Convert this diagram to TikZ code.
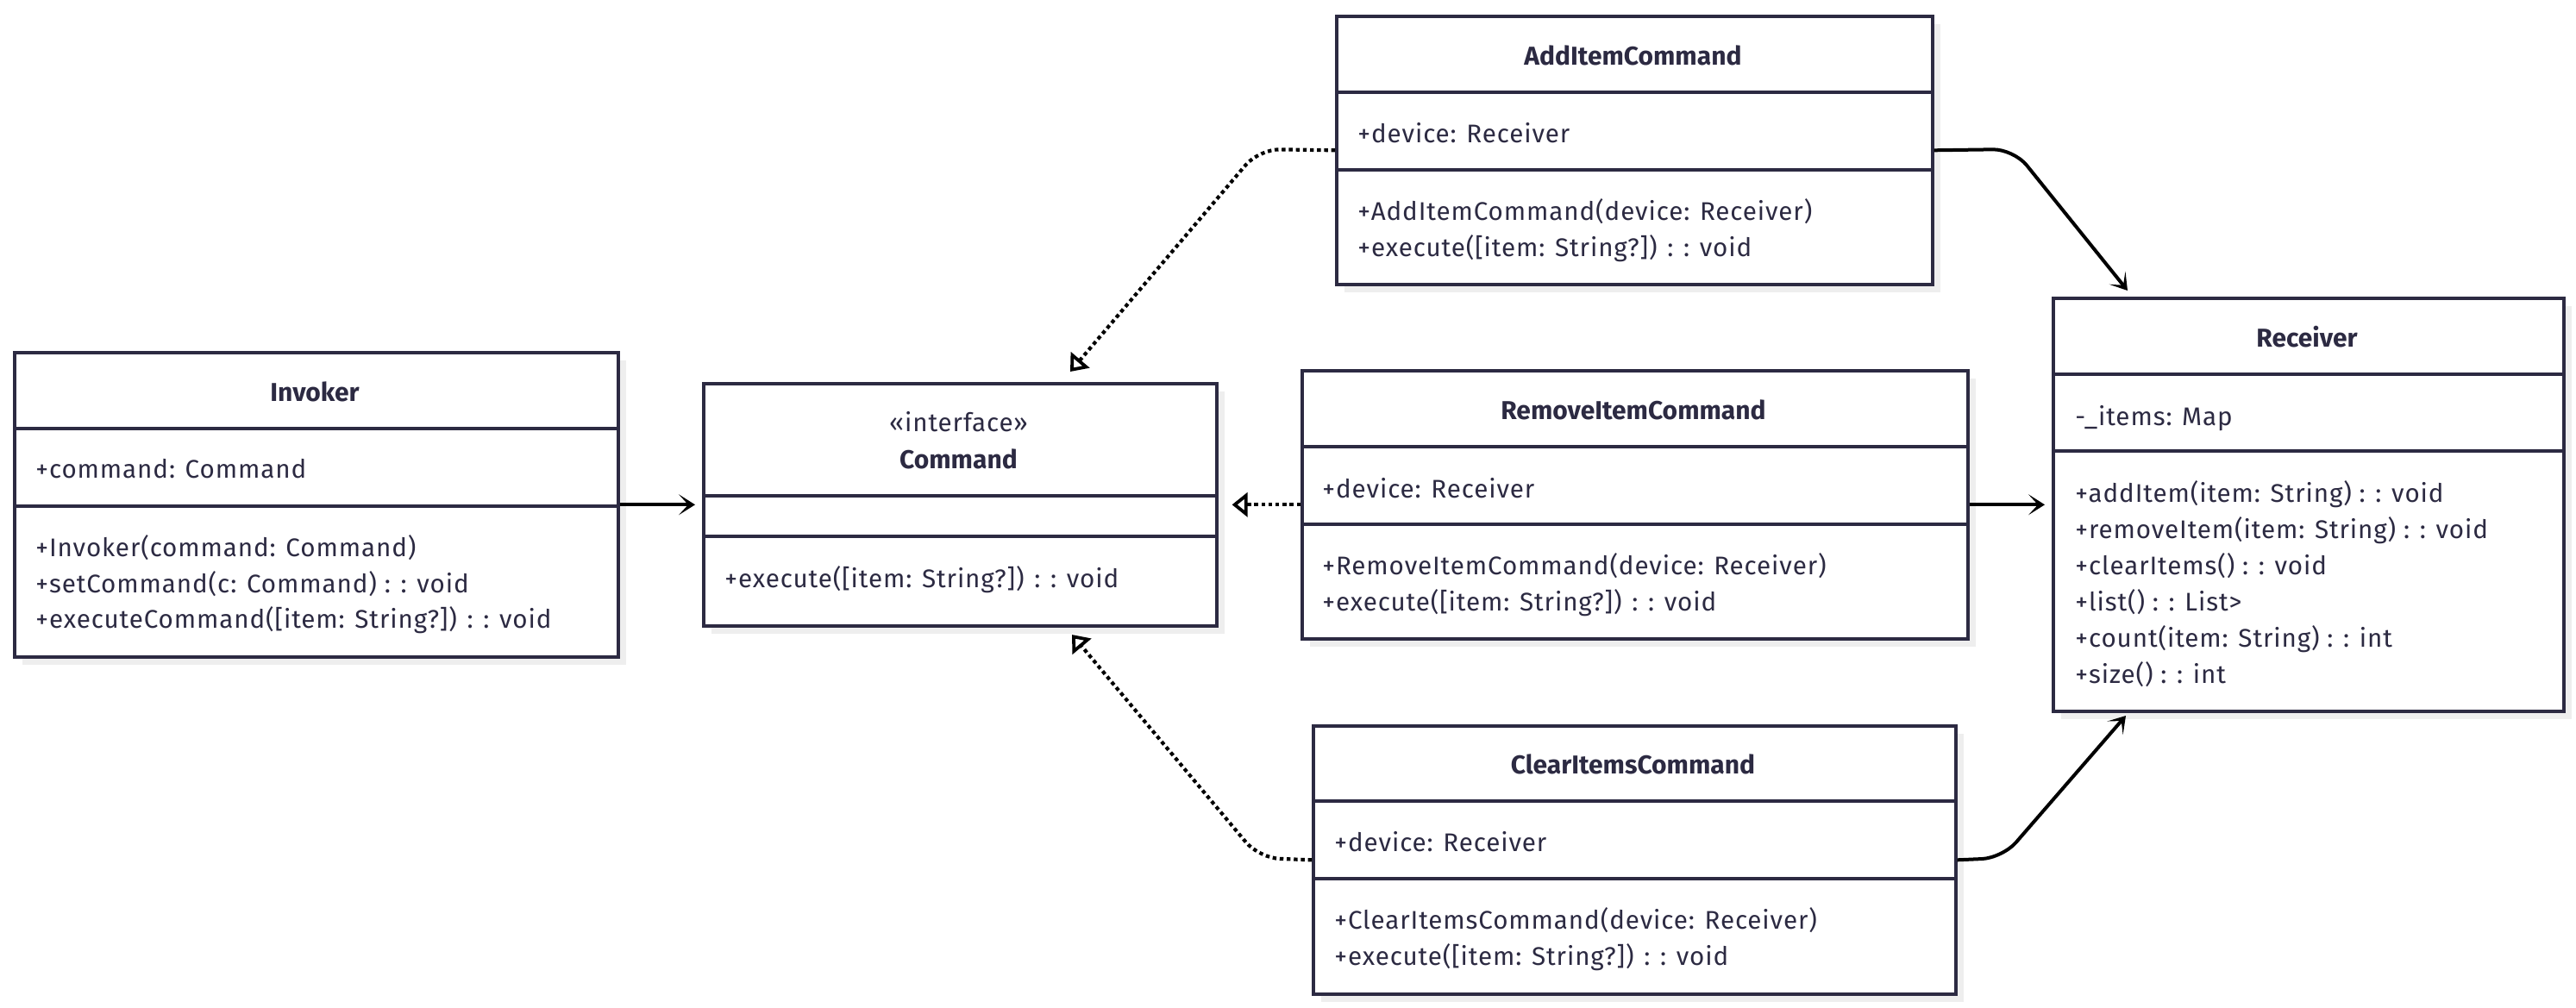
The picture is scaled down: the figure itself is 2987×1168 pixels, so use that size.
\documentclass[tikz,border=0pt]{standalone}
\usepackage{fontspec}
\setmainfont{Fira Sans}
\newfontfamily\spacedfont[LetterSpace=3.0]{Fira Sans}
\usetikzlibrary{arrows.meta,shadows,calc}
\definecolor{ink}{RGB}{44,42,66}
\definecolor{shade}{RGB}{238,238,238}
\begin{document}
\begin{tikzpicture}[x=0.5pt,y=-0.5pt,
  classbox/.style={draw=ink, line width=1.8pt, fill=white, rectangle, inner sep=0pt, anchor=north west,
    drop shadow={shadow xshift=4.5pt, shadow yshift=-4.5pt, fill=shade, draw=none, opacity=1}},
  divline/.style={draw=ink, line width=1.8pt},
  txt/.style={text=ink, inner sep=0pt, anchor=west, font=\spacedfont\fontsize{14.8pt}{17pt}\selectfont, text height=10pt, text depth=0pt},
  ttl/.style={txt, anchor=center, font=\fontsize{15pt}{17pt}\selectfont\bfseries},
  assoc/.style={draw=black, line width=2pt, rounded corners=12pt, -{Stealth[length=9.5pt, width=12pt, inset=5.5pt]}},
  realize/.style={draw=black, line width=2.1pt, rounded corners=12pt, dash pattern=on 2.2pt off 1.9pt, -{Triangle[open, length=9pt, width=14pt, line width=1.9pt]}}
]
\useasboundingbox (0,0) rectangle (2987,1168);

% ---------- Invoker ----------
\node[classbox, minimum width=350pt, minimum height=176.5pt] (inv) at (15,407) {};
\draw[divline] (inv.west |- 0,497) -- (inv.east |- 0,497);
\draw[divline] (inv.west |- 0,587) -- (inv.east |- 0,587);
\node[ttl] (invT) at (365,455) {Invoker};
\node[txt] (invA) at (41,544) {+command: Command};
\node[txt] (invM1) at (41,635) {+Invoker(command: Command)};
\node[txt] (invM2) at (41,677) {+setCommand(c: Command) : : void};
\node[txt] (invM3) at (41,718) {+executeCommand([item: String?]) : : void};

% ---------- Command ----------
\node[classbox, minimum width=297.5pt, minimum height=140.5pt] (cmd) at (814,443) {};
\draw[divline] (cmd.west |- 0,575) -- (cmd.east |- 0,575);
\draw[divline] (cmd.west |- 0,622) -- (cmd.east |- 0,622);
\node[txt, anchor=center] (cmdS) at (1111.5,490) {«interface»};
\node[ttl] (cmdT) at (1111.5,533) {Command};
\node[txt] (cmdM1) at (840,671) {+execute([item: String?]) : : void};

% ---------- AddItemCommand ----------
\node[classbox, minimum width=345.5pt, minimum height=155.5pt] (add) at (1548,17) {};
\draw[divline] (add.west |- 0,107) -- (add.east |- 0,107);
\draw[divline] (add.west |- 0,197) -- (add.east |- 0,197);
\node[ttl] (addT) at (1893.5,65) {AddItemCommand};
\node[txt] (addA) at (1574,155) {+device: Receiver};
\node[txt] (addM1) at (1574,245) {+AddItemCommand(device: Receiver)};
\node[txt] (addM2) at (1574,287) {+execute([item: String?]) : : void};

% ---------- RemoveItemCommand ----------
\node[classbox, minimum width=386pt, minimum height=155.5pt] (rem) at (1508,428) {};
\draw[divline] (rem.west |- 0,518) -- (rem.east |- 0,518);
\draw[divline] (rem.west |- 0,608) -- (rem.east |- 0,608);
\node[ttl] (remT) at (1894,476) {RemoveItemCommand};
\node[txt] (remA) at (1533,567) {+device: Receiver};
\node[txt] (remM1) at (1533,656) {+RemoveItemCommand(device: Receiver)};
\node[txt] (remM2) at (1533,698) {+execute([item: String?]) : : void};

% ---------- ClearItemsCommand ----------
\node[classbox, minimum width=372.5pt, minimum height=155.5pt] (clr) at (1521,840) {};
\draw[divline] (clr.west |- 0,929) -- (clr.east |- 0,929);
\draw[divline] (clr.west |- 0,1019) -- (clr.east |- 0,1019);
\node[ttl] (clrT) at (1893.5,887) {ClearItemsCommand};
\node[txt] (clrA) at (1547,977) {+device: Receiver};
\node[txt] (clrM1) at (1547,1067) {+ClearItemsCommand(device: Receiver)};
\node[txt] (clrM2) at (1547,1109) {+execute([item: String?]) : : void};

% ---------- Receiver ----------
\node[classbox, minimum width=296pt, minimum height=239.5pt] (rcv) at (2379,344) {};
\draw[divline] (rcv.west |- 0,434) -- (rcv.east |- 0,434);
\draw[divline] (rcv.west |- 0,523) -- (rcv.east |- 0,523);
\node[ttl] (rcvT) at (2675,392) {Receiver};
\node[txt] (rcvA) at (2406,483) {-\_items: Map};
\node[txt] (rcvM1) at (2406,572) {+addItem(item: String) : : void};
\node[txt] (rcvM2) at (2406,614) {+removeItem(item: String) : : void};
\node[txt] (rcvM3) at (2406,656) {+clearItems() : : void};
\node[txt] (rcvM4) at (2406,698) {+list() : : List>};
\node[txt] (rcvM5) at (2406,740) {+count(item: String) : : int};
\node[txt] (rcvM6) at (2406,782) {+size() : : int};

% ---------- connector points ----------
\coordinate (addBendL) at (1460,173);
\coordinate (addTipL) at (1241,431);
\coordinate (clrBendL) at (1460,995);
\coordinate (clrTipL) at (1243,736);
\coordinate (addBendR) at (2335,173);
\coordinate (addTipR) at (2467,337);
\coordinate (clrBendR) at (2322,995);
\coordinate (clrTipR) at (2465,830);

% ---------- connectors ----------
\draw[assoc, shorten >=4pt] (inv.east) -- (cmd.west);
\draw[assoc, shorten >=4pt] (rem.east) -- (rcv.west);
\draw[assoc] (add.east) -- (addBendR) -- (addTipR);
\draw[assoc] (clr.east) -- (clrBendR) -- (clrTipR);
\draw[realize, shorten >=8pt] (rem.west) -- (cmd.east);
\draw[realize] (add.west) -- (addBendL) -- (addTipL);
\draw[realize] (clr.west) -- (clrBendL) -- (clrTipL);
\end{tikzpicture}
\end{document}
